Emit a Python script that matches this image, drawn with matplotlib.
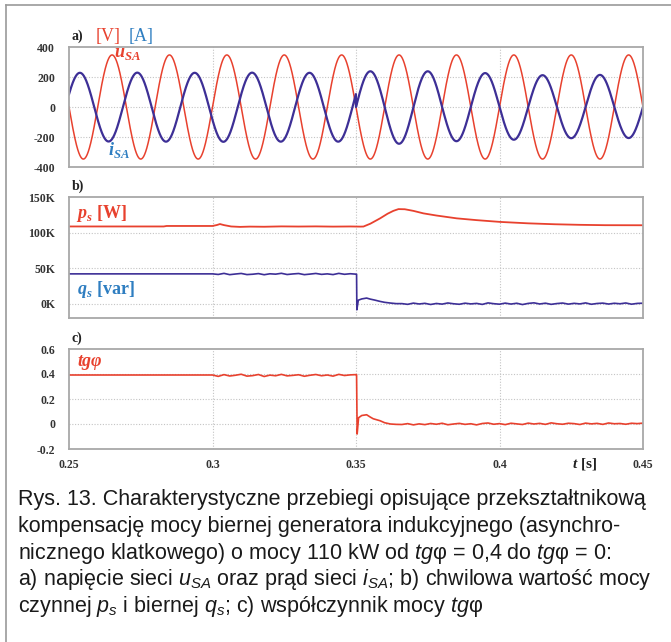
import numpy as np
import matplotlib
matplotlib.use('Agg')
import matplotlib.pyplot as plt
from matplotlib.lines import Line2D

plt.rcParams['mathtext.fontset'] = 'custom'
plt.rcParams['mathtext.rm'] = 'Liberation Sans'
plt.rcParams['mathtext.it'] = 'Liberation Sans:italic'
plt.rcParams['mathtext.bfit'] = 'Liberation Serif:italic:bold'

# ---------------- data ----------------
t_start, t_end, t_switch = 0.25, 0.45, 0.35
f_grid = 50.0
u_peak = 347.0                      # grid voltage amplitude [V]
i_phase = [0.38, 0.0]               # current phase lead [rad] before / after switching
i_half_peaks = [228, 230, 229, 231, 228, 232, 229, 231, 228, 231,
                238, 245, 238, 228, 226, 218, 212, 208, 214, 207]

# active power p_s [kW]
p_t = [0.25, 0.283, 0.284, 0.300, 0.3015, 0.3026, 0.304, 0.3065, 0.3096, 0.313,
       0.318, 0.324, 0.330, 0.336, 0.342, 0.348, 0.3515, 0.3526, 0.355, 0.3584,
       0.361, 0.363, 0.3648, 0.367, 0.370, 0.3735, 0.378, 0.3851, 0.392, 0.4002,
       0.410, 0.4193, 0.428, 0.4368, 0.45]
p_v = [108.6, 108.6, 109.3, 109.3, 110.6, 112.0, 110.5, 108.6, 108.0, 108.4,
       108.2, 108.7, 108.5, 108.7, 108.4, 108.6, 108.4, 108.5, 112.5, 120.0,
       126.5, 130.5, 133.0, 132.8, 130.5, 127.0, 124.0, 120.0, 117.5, 115.0,
       113.0, 111.7, 110.9, 110.4, 110.3]

# reactive power q_s [kvar]
q_flat_t = [0.25, 0.30]
q_flat_v = [42.0, 42.0]
q_mid_v = [42.0, 41.2, 42.7, 40.9, 41.8, 42.6, 41.0, 41.5, 42.4, 40.8, 42.1, 41.6, 42.8,
           41.1, 41.9, 42.5, 40.9, 41.7, 42.6, 41.3, 42.0, 41.0, 42.7, 41.4, 42.2, 41.6]
q_step_t = [0.3502, 0.3503, 0.3508, 0.352, 0.3537, 0.355, 0.3565, 0.3584, 0.360, 0.362, 0.364]
q_step_v = [41.5, -8.5, 5.0, 6.8, 8.0, 6.5, 5.2, 3.3, 2.0, 1.0, 0.2]
q_end_v = [0.2, -0.8, 0.9, -0.3, 0.6, -1.0, 0.4, -0.5, 1.1, 0.0, -0.7, 0.8, -0.2, 0.5,
           -0.9, 1.2, 0.1, -0.6, 0.9, -0.4, 0.7, -1.1, 0.5, 1.3, -0.3, 0.8, -0.8, 0.3,
           1.0, -0.5, 0.6, -0.2, 1.2, -0.7, 0.4, 0.9, -0.4, 0.7, 0.0, 1.1, -0.6, 0.5, 0.8]

# tg(phi)
tg_flat_t = [0.25, 0.30]
tg_flat_v = [0.392, 0.392]
tg_mid_v = [0.392, 0.381, 0.395, 0.384, 0.390, 0.398, 0.383, 0.387, 0.396, 0.380, 0.391,
            0.386, 0.397, 0.385, 0.389, 0.394, 0.382, 0.390, 0.396, 0.386, 0.392, 0.383,
            0.397, 0.388, 0.393, 0.395]
tg_step_t = [0.3502, 0.3504, 0.3509, 0.352, 0.3537, 0.355, 0.356, 0.3584, 0.360, 0.362, 0.364]
tg_step_v = [0.395, -0.08, 0.05, 0.068, 0.074, 0.055, 0.042, 0.026, 0.010, 0.0, -0.003]
tg_end_v = [-0.004, 0.003, -0.007, 0.001, -0.005, 0.004, -0.002, 0.006, -0.006, 0.000,
            0.005, -0.003, 0.002, -0.007, 0.004, 0.008, -0.002, 0.003, -0.005, 0.006,
            0.001, -0.004, 0.007, 0.000, 0.005, -0.003, 0.009, 0.002, -0.002, 0.006,
            0.003, -0.004, 0.007, 0.001, 0.005, -0.003, 0.008, 0.002, 0.004, -0.002,
            0.006, 0.003, 0.007]

x_ticks = [0.25, 0.3, 0.35, 0.4, 0.45]
x_tick_labels = ['0.25', '0.3', '0.35', '0.4', '0.45']

caption = [
    'Rys. 13. Charakterystyczne przebiegi opisujące przekształtnikową',
    'kompensację mocy biernej generatora indukcyjnego (asynchro-',
    'nicznego klatkowego) o mocy 110 kW od $tg$φ = 0,4 do $tg$φ = 0:',
    'a) napięcie sieci $u_{SA}$ oraz prąd sieci $i_{SA}$; b) chwilowa wartość mocy',
    'czynnej $p_s$ i biernej $q_s$; c) współczynnik mocy $tg$φ',
]

# ---------------- build waveforms ----------------
t = np.linspace(t_start, t_end, 6001)
theta = 2 * np.pi * f_grid * (t - t_start)
u_sa = -u_peak * np.sin(theta)
th_i = theta + np.where(t < t_switch, i_phase[0], i_phase[1])
k = np.clip(np.floor(th_i / np.pi).astype(int), 0, len(i_half_peaks) - 1)
i_sa = np.array(i_half_peaks)[k] * np.sin(th_i)

q_t = q_flat_t + list(np.linspace(0.30, 0.35, len(q_mid_v))) + q_step_t + list(np.linspace(0.366, 0.45, len(q_end_v)))
q_v = q_flat_v + q_mid_v + q_step_v + q_end_v
tg_t = tg_flat_t + list(np.linspace(0.30, 0.35, len(tg_mid_v))) + tg_step_t + list(np.linspace(0.366, 0.45, len(tg_end_v)))
tg_v = tg_flat_v + tg_mid_v + tg_step_v + tg_end_v

# ---------------- figure ----------------
W, H = 671, 642
fig = plt.figure(figsize=(W / 100, H / 100), dpi=100)
fig.patch.set_facecolor('white')

RED = '#e8412e'
NAVY = '#3d2f96'
LBLUE = '#2f7ec1'
TICK = '#333333'
tick_font = dict(family='Liberation Serif', weight='bold', size=8.5)


def px_axes(l, top, r, b):
    return fig.add_axes([l / W, 1 - b / H, (r - l) / W, (b - top) / H])


def style(ax, yticks, ylabels, ygrid, show_x=False):
    ax.set_xlim(t_start, t_end)
    ax.set_xticks(x_ticks)
    ax.set_yticks(yticks)
    ax.set_yticklabels(ylabels, **tick_font, color=TICK)
    if show_x:
        ax.set_xticklabels(x_tick_labels, **tick_font, color=TICK)
    else:
        ax.set_xticklabels([])
    ax.tick_params(length=0, pad=10)
    ax.tick_params(axis='x', pad=7)
    for s in ax.spines.values():
        s.set_color('#a8a8a8')
        s.set_linewidth(1.3)
    for xv in [0.3, 0.35, 0.4]:
        ax.axvline(xv, color='#c4c4c4', lw=0.8, ls=(0, (1, 1.5)), zorder=0)
    for yv in ygrid:
        ax.axhline(yv, color='#c4c4c4', lw=0.8, ls=(0, (1, 1.5)), zorder=0)


def ftext(x, y, s, **kw):
    fig.text(x / W, 1 - y / H, s, **kw)


# panel a
ax1 = px_axes(69, 47, 643, 167)
ax1.plot(t, u_sa, color=RED, lw=1.1)
ax1.plot(t, i_sa, color=NAVY, lw=1.6)
ax1.set_ylim(-400, 400)
style(ax1, [400, 200, 0, -200, -400], ['400', '200', '0', '-200', '-400'], [200, 0, -200])

# panel b
ax2 = px_axes(69, 197, 643, 318)
ax2.plot(p_t, np.array(p_v) * 1000, color=RED, lw=1.3)
ax2.plot(q_t, np.array(q_v) * 1000, color=NAVY, lw=1.2)
ax2.set_ylim(-20000, 150000)
style(ax2, [150000, 100000, 50000, 0], ['150K', '100K', '50K', '0K'], [100000, 50000, 0])

# panel c
ax3 = px_axes(69, 349, 643, 449)
ax3.plot(tg_t, tg_v, color=RED, lw=1.2)
ax3.set_ylim(-0.2, 0.6)
style(ax3, [0.6, 0.4, 0.2, 0, -0.2], ['0.6', '0.4', '0.2', '0', '-0.2'], [0.4, 0.2, 0], show_x=True)

# labels
lab = dict(family='Liberation Serif', weight='bold', va='center')
ftext(72, 36, 'a)', size=10, color='#222222', **lab)
ftext(72, 186, 'b)', size=10, color='#222222', **lab)
ftext(72, 338, 'c)', size=10, color='#222222', **lab)
ftext(96, 36, '[V]', size=13, color=RED, family='Liberation Serif', va='center')
ftext(129, 36, '[A]', size=13, color=LBLUE, family='Liberation Serif', va='center')
ftext(114, 53, r'$\mathbfit{u}_{\mathbfit{SA}}$', size=13, color=RED, va='center')
ftext(108, 150, r'$\mathbfit{i}_{\mathbfit{SA}}$', size=13, color=LBLUE, va='center')
ftext(76, 214, r'$\mathbfit{p}_{\mathbfit{s}}$ [W]', size=13, color=RED, **lab)
ftext(77, 289, r'$\mathbfit{q}_{\mathbfit{s}}$ [var]', size=13, color=LBLUE, **lab)
ftext(77, 362, 'tgφ', size=13, color=RED, family='Liberation Serif', weight='bold',
      style='italic', va='center')
ftext(572, 464, r'$\mathbfit{t}$ [s]', size=11, color='#222222', **lab)

# caption
for n, line in enumerate(caption):
    ftext(18, 505 + n * 26.8, line, size=15.5, color='#1a1a1a',
          family='Liberation Sans', va='baseline')

# outer frame
fig.add_artist(Line2D([6 / W, 6 / W], [0, 1 - 5 / H], color='#9a9a9a', lw=1.2))
fig.add_artist(Line2D([6 / W, 1], [1 - 5 / H, 1 - 5 / H], color='#9a9a9a', lw=1.2))

fig.savefig('out.png', dpi=100)
